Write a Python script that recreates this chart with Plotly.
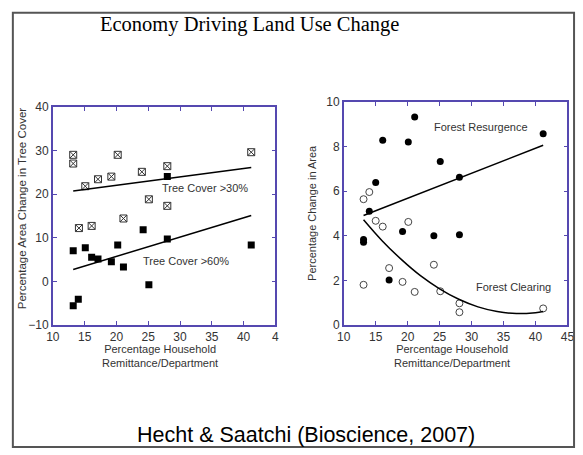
import plotly.graph_objects as go

# left panel: tree cover vs remittance
tree30_x = [13.2, 13.2, 20.2, 41.2, 15.1, 17.1, 19.2, 24.0, 28.0, 25.1, 28.0, 21.1, 16.1, 14.1]
tree30_y = [29.0, 27.0, 29.0, 29.6, 21.8, 23.4, 24.0, 25.1, 26.4, 18.8, 17.3, 14.4, 12.7, 12.2]
tree60_x = [13.2, 15.1, 16.1, 17.1, 19.2, 20.2, 21.1, 24.2, 25.1, 28.0, 28.0, 41.2, 13.2, 14.0]
tree60_y = [7.0, 7.7, 5.5, 5.1, 4.5, 8.3, 3.3, 11.8, -0.8, 9.7, 24.0, 8.3, -5.6, -4.1]
fit30_x = [13.2, 41.2]
fit30_y = [20.7, 26.1]
fit60_x = [13.2, 41.2]
fit60_y = [2.7, 15.1]

# right panel: forest resurgence / clearing
resurg_x = [21.1, 16.1, 20.1, 41.2, 25.1, 15.0, 28.1, 14.0, 13.1, 13.1, 19.2, 24.1, 28.1, 17.1]
resurg_y = [9.33, 8.28, 8.2, 8.57, 7.33, 6.39, 6.62, 5.10, 3.83, 3.71, 4.19, 4.0, 4.05, 2.01]
clear_x = [13.1, 14.0, 15.0, 16.1, 20.1, 17.1, 24.1, 13.1, 19.2, 21.1, 25.1, 28.1, 28.1, 41.2]
clear_y = [5.64, 5.96, 4.67, 4.41, 4.62, 2.55, 2.70, 1.80, 1.93, 1.48, 1.51, 0.97, 0.57, 0.74]
resurg_fit_x = [13.1, 41.2]
resurg_fit_y = [4.91, 8.06]
clear_fit_x = [13.1, 16, 19, 22, 25, 28, 31, 34, 37, 40, 41.2]
clear_fit_y = [4.72, 3.78, 2.94, 2.21, 1.62, 1.15, 0.81, 0.60, 0.51, 0.55, 0.60]

x_ticks = [10, 15, 20, 25, 30, 35, 40, 45]
left_x_ticktext = ["10", "15", "20", "25", "30", "35", "40", "4"]

AXIS = "#5548b0"
FONT = "Liberation Sans, Arial, sans-serif"

fig = go.Figure()

fig.add_trace(go.Scatter(x=tree30_x, y=tree30_y, mode="markers", xaxis="x", yaxis="y",
                         marker=dict(symbol="square-x-open", size=7, color="#333",
                                     line=dict(width=1, color="#333"))))
fig.add_trace(go.Scatter(x=tree60_x, y=tree60_y, mode="markers", xaxis="x", yaxis="y",
                         marker=dict(symbol="square", size=7, color="black")))
fig.add_trace(go.Scatter(x=fit30_x, y=fit30_y, mode="lines", xaxis="x", yaxis="y",
                         line=dict(color="black", width=1.5)))
fig.add_trace(go.Scatter(x=fit60_x, y=fit60_y, mode="lines", xaxis="x", yaxis="y",
                         line=dict(color="black", width=1.5)))

fig.add_trace(go.Scatter(x=resurg_x, y=resurg_y, mode="markers", xaxis="x2", yaxis="y2",
                         marker=dict(symbol="circle", size=7, color="black")))
fig.add_trace(go.Scatter(x=clear_x, y=clear_y, mode="markers", xaxis="x2", yaxis="y2",
                         marker=dict(symbol="circle-open", size=7, color="#444",
                                     line=dict(width=1, color="#444"))))
fig.add_trace(go.Scatter(x=resurg_fit_x, y=resurg_fit_y, mode="lines", xaxis="x2", yaxis="y2",
                         line=dict(color="black", width=1.5)))
fig.add_trace(go.Scatter(x=clear_fit_x, y=clear_fit_y, mode="lines", xaxis="x2", yaxis="y2",
                         line=dict(color="black", width=1.5, shape="spline")))

axis_style = dict(showgrid=False, zeroline=False, showline=True, linecolor=AXIS, linewidth=1.5,
                  mirror="ticks", ticks="inside", ticklen=4, tickcolor=AXIS,
                  tickfont=dict(family=FONT, size=12, color="#333"))

fig.update_layout(
    width=583, height=455, autosize=False,
    margin=dict(l=0, r=0, t=0, b=0),
    paper_bgcolor="white", plot_bgcolor="white",
    showlegend=False,
    xaxis=dict(domain=[0.0806, 0.4717], range=[10, 45], tickvals=x_ticks,
               ticktext=left_x_ticktext, anchor="y", **axis_style),
    yaxis=dict(domain=[0.2791, 0.7736], range=[-10, 40], dtick=10, anchor="x", **axis_style),
    xaxis2=dict(domain=[0.5918, 0.985], range=[10, 45], tickvals=x_ticks, anchor="y2", **axis_style),
    yaxis2=dict(domain=[0.2791, 0.7846], range=[0, 10], dtick=2, anchor="x2", **axis_style),
)

def text(x, y, s, size=11, xref="paper", yref="paper", angle=0, family=FONT, color="#333"):
    fig.add_annotation(x=x, y=y, xref=xref, yref=yref, text=s, showarrow=False,
                       xanchor="center", yanchor="middle", textangle=angle,
                       font=dict(family=family, size=size, color=color))

text(248 / 583, 1 - 18 / 455, "Economy Driving Land Use Change", size=20.5,
     family="Liberation Serif, Times New Roman, serif", color="black")
text(306 / 583, 1 - 442 / 455, "Hecht & Saatchi (Bioscience, 2007)", size=21.5, color="black")

text(34, 21.4, "Tree Cover >30%", xref="x", yref="y")
text(31, 4.7, "Tree Cover >60%", xref="x", yref="y")
text(31.4, 8.86, "Forest Resurgence", xref="x2", yref="y2")
text(36.5, 1.68, "Forest Clearing", xref="x2", yref="y2")

text(15 / 583, 1 - 208 / 455, "Percentage Area Change in Tree Cover", size=11.5, angle=-90)
text(313 / 583, 1 - 212 / 455, "Percentage Change in Area", size=11, angle=-90)
text(157 / 583, 1 - 360 / 455, "Percentage Household<br>Remittance/Department", size=11)
text(456 / 583, 1 - 360 / 455, "Percentage Household<br>Remittance/Department", size=11)

# slide frame
fig.add_shape(type="rect", xref="paper", yref="paper",
              x0=6 / 583, x1=581 / 583, y0=1 - 454 / 455, y1=1 - 6 / 455,
              line=dict(color="#555", width=2))

# drop the default page margin so the figure sits at the window's corner
fig.write_html("out.html", config={"displayModeBar": False},
               post_script="document.body.style.margin = '0';")
